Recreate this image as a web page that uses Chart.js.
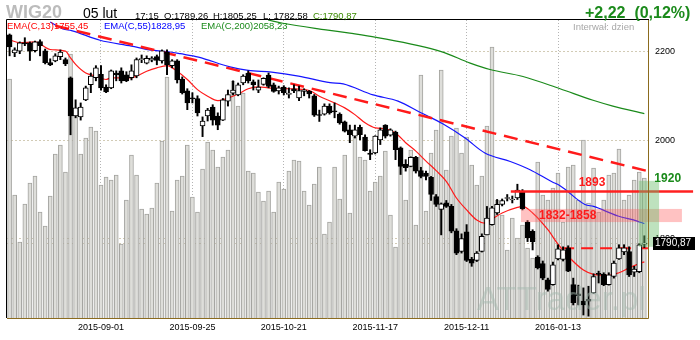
<!DOCTYPE html>
<html><head><meta charset="utf-8">
<script src="https://cdn.jsdelivr.net/npm/chart.js@4.4.1/dist/chart.umd.min.js"></script>
<style>
html,body{margin:0;padding:0;background:#fff;}
#wrap{position:relative;width:700px;height:340px;font-family:"Liberation Sans",Arial,sans-serif;overflow:hidden;}
canvas{position:absolute;left:0;top:0;}
.t{position:absolute;white-space:pre;line-height:1;pointer-events:none;}
</style></head><body>
<div id="wrap">
<canvas id="c" width="700" height="340"></canvas>
<div class="t" style="left:6px;top:3px;font-size:18px;font-weight:bold;color:#bcbcbc;">WIG20</div>
<div class="t" style="left:83px;top:5.5px;font-size:14px;color:#000;">05 lut</div>
<div class="t" style="left:135px;top:10.5px;font-size:9.5px;color:#000;">17:15</div>
<div class="t" id="hO" style="left:164px;top:10.5px;font-size:9.5px;color:#000;"></div>
<div class="t" id="hH" style="left:213px;top:10.5px;font-size:9.5px;color:#000;"></div>
<div class="t" id="hL" style="left:263px;top:10.5px;font-size:9.5px;color:#000;"></div>
<div class="t" id="hC" style="left:313px;top:10.5px;font-size:9.5px;color:#3a8a00;"></div>
<div class="t" id="chg" style="left:585px;top:5px;font-size:16px;font-weight:bold;color:#1b8a1b;"></div>
<div class="t" id="l13" style="left:7px;top:20.5px;font-size:9.5px;color:#ff0000;"></div>
<div class="t" id="l55" style="left:104px;top:20.5px;font-size:9.5px;color:#0000ff;"></div>
<div class="t" id="l200" style="left:201px;top:20.5px;font-size:9.5px;color:#1a8a1a;"></div>
<div class="t" style="left:573px;top:21.5px;font-size:9.5px;color:#a8a8a8;">Interwał: dzien</div>
</div>
<script>
// ---- tick labels (trading-day index -> date) ----
const tickIndex = [18, 36, 54, 72, 90, 108];
const tickDates = ['2015-09-01','2015-09-25','2015-10-21','2015-11-17','2015-12-11','2016-01-13'];
const priceTicks = [1800, 2000, 2200];
const prevClose = 1788.65;

// ---- daily OHLC, WIG20, 2015-08-06 .. 2016-02-05 ----
const opens = [2240,2197,2201,2221,2221,2202,2224,2202,2174,2178,2188,2181,2139,2053,2051,2089,2123,2139,2147,2118,
2116,2150,2155,2146,2139,2143,2181,2173,2180,2188,2178,2199,2167,2178,2136,2109,2093,2092,2031,2053,
2073,2053,2044,2086,2104,2100,2127,2150,2130,2111,2124,2145,2123,2109,2118,2101,2114,2093,2108,2108,
2098,2055,2057,2075,2063,2057,2040,2023,2009,2028,2007,1973,1973,2001,2033,2011,2018,1984,1949,1945,
1964,1936,1931,1922,1883,1857,1870,1863,1815,1775,1813,1760,1758,1775,1807,1827,1850,1867,1879,1876,
1880,1894,1832,1814,1764,1752,1722,1713,1761,1760,1782,1713,1696,1683,1686,1698,1733,1732,1713,1728,
1761,1774,1775,1736,1737,1789.26];
const highs = [2242,2209,2223,2233,2223,2225,2228,2206,2183,2195,2204,2185,2141,2089,2082,2120,2150,2167,2167,2123,
2157,2155,2162,2153,2169,2185,2192,2190,2188,2192,2204,2204,2181,2181,2141,2114,2105,2098,2051,2070,
2078,2060,2092,2111,2132,2127,2146,2155,2134,2134,2139,2150,2127,2120,2121,2116,2123,2120,2114,2110,
2101,2066,2080,2080,2082,2060,2042,2033,2033,2033,2012,1980,2010,2027,2034,2025,2020,1986,1959,1965,
1966,1943,1935,1924,1887,1870,1875,1867,1819,1809,1827,1764,1775,1809,1863,1863,1877,1878,1887,1884,
1908,1897,1835,1817,1767,1757,1725,1755,1788,1784,1786,1725,1712,1707,1710,1733,1738,1735,1735,1757,
1788,1788,1784,1747,1790,1805.25];
const lows = [2190,2188,2195,2214,2179,2199,2190,2171,2167,2176,2181,2167,2012,2049,2044,2087,2105,2132,2111,2105,
2114,2132,2127,2130,2134,2139,2174,2171,2176,2169,2173,2146,2162,2127,2102,2067,2082,2053,2008,2042,
2033,2023,2043,2075,2100,2098,2123,2127,2111,2105,2122,2116,2106,2102,2100,2093,2105,2087,2098,2093,
2052,2041,2055,2057,2049,2035,2018,1995,2005,2001,1977,1959,1971,1991,2005,2009,1959,1928,1935,1944,
1931,1921,1917,1875,1863,1807,1861,1811,1769,1772,1756,1747,1756,1774,1807,1826,1847,1864,1874,1870,
1877,1856,1794,1778,1742,1722,1701,1712,1759,1757,1737,1676,1676,1658,1656,1697,1716,1711,1712,1725,
1760,1769,1728,1728,1735,1782.58];
const closes = [2211,2204,2221,2218,2201,2223,2214,2174,2169,2190,2199,2171,2053,2071,2073,2116,2143,2162,2116,2107,
2155,2146,2132,2132,2155,2181,2183,2184,2185,2179,2202,2169,2178,2134,2105,2082,2091,2060,2042,2066,
2044,2033,2089,2101,2111,2123,2143,2132,2123,2118,2138,2119,2108,2116,2105,2104,2109,2110,2111,2102,
2055,2054,2075,2060,2062,2038,2020,2012,2023,2012,1978,1970,2009,2023,2009,2023,1980,1945,1942,1964,
1935,1924,1924,1887,1867,1868,1863,1814,1772,1800,1758,1753,1772,1804,1840,1860,1867,1875,1880,1878,
1896,1858,1801,1794,1744,1725,1704,1750,1780,1778,1738,1680,1693,1676,1683,1728,1732,1713,1731,1753,
1782,1782,1731,1742,1788,1790.87];
// turnover (relative units)
const volumes = [2390,1230,760,1140,1350,1420,1060,920,1220,1640,1730,1460,2640,2090,1640,1800,1910,1870,1330,1410,
1380,1430,740,1180,1630,1430,1090,1040,1100,1350,1770,2410,1070,1380,1420,1730,1210,1060,1490,1760,
1680,1510,1610,1680,2370,2120,2250,1470,1450,1260,1170,1270,1060,1360,1290,1470,1580,1570,1270,1130,
1340,1510,840,960,1510,1190,1630,1050,1810,1610,1580,1270,1360,1420,1670,1030,710,1600,1180,1680,
930,2430,1070,1650,1880,2480,1480,1820,1900,1650,1810,1530,1330,1420,1920,2710,1180,1030,680,1000,
800,930,700,600,1560,1230,1180,1300,1450,960,1510,1530,1180,1780,1150,1500,1060,1180,1430,1450,
1690,1180,1230,1380,1460,1400];

// ---- moving averages (index, value) ----
const ema13Idx = [0,2,5,8,11,12,13,15,17,19,20,24,25,27,29,31,33,35,37,39,41,43,45,47,49,51,55,59,61,63,66,68,70,72,74,76,78,80,82,84,86,88,90,92,93.5,95,97,100,101,103,106,108,110,113,115,118,120,122,124,125];
const ema13Val = [2228,2221,2223,2205,2201,2185,2170,2150,2143,2135,2139,2139,2143,2154,2162,2167,2154,2135,2112,2097,2087,2093,2102,2114,2118,2116,2114,2110,2097,2087,2071,2056,2038,2027,2025,2016,1995,1977,1956,1936,1914,1880,1856,1836,1830,1838,1850,1861,1863,1850,1817,1789,1766,1740,1732,1730,1735,1744,1752,1755.45];
const ema55Idx = [8,10.5,12.2,17.8,24,27.6,31.6,33.6,37.2,43.4,47,51.6,56.9,63.1,65.7,71.6,76.5,81,85.3,89.7,93.6,98.6,102.5,106.8,108.4,113.3,115,119.8,123.6,125];
const ema55Val = [2271,2254,2250,2227,2213,2204,2199,2195,2187,2164,2156,2152,2143,2128,2125,2100,2086,2060,2036,2005,1973,1955,1938,1913,1905,1867,1863,1844,1834,1828.95];
const ema200Idx = [50.9,53.8,62.3,67,72.2,85,90.7,94.6,101.1,108.4,114.9,118.8,125];
const ema200Val = [2276,2268,2252,2244,2234,2200,2173,2158,2142,2114,2088,2075,2058.23];

// ---- drawn analysis ----
const trendIdx = [9, 125.7];
const trendVal = [2262, 1935];
const supportIdx = [108.8, 125.7];
const supportVal = [1781, 1781];
const resistance = 1893;          const resistanceIdx = [98.7, 134.6];
const zoneLow = 1832, zoneHigh = 1858; const zoneIdx = [100.7, 132.4];
const target = 1920;              const targetBoxIdx = [123.9, 127.9]; const targetBoxVal = [1784, 1915];

const fmt = v => v.toFixed(2).replace('.', ',');
const last = closes.length - 1;
document.getElementById('hO').textContent = 'O:' + fmt(opens[last]);
document.getElementById('hH').textContent = 'H:' + fmt(highs[last]);
document.getElementById('hL').textContent = 'L: ' + fmt(lows[last]);
document.getElementById('hC').textContent = 'C:' + fmt(closes[last]);
const d = closes[last] - prevClose;
document.getElementById('chg').textContent = (d >= 0 ? '+' : '') + fmt(d) + '  (' + fmt(d / prevClose * 100) + '%)';
document.getElementById('l13').textContent = 'EMA(C,13)' + fmt(ema13Val[ema13Val.length-1]);
document.getElementById('l55').textContent = 'EMA(C,55)' + fmt(ema55Val[ema55Val.length-1]);
document.getElementById('l200').textContent = 'EMA(C,200)' + fmt(ema200Val[ema200Val.length-1]);

const pts = (xs, ys) => xs.map((x, i) => ({x, y: ys[i]}));
const FONT = '"Liberation Sans", Arial, sans-serif';

const overlay = {
  id: 'overlay',
  beforeDatasetsDraw(chart) {
    const {ctx, chartArea: a, scales: {y}} = chart;
    ctx.save();
    ctx.setLineDash([2, 2]); ctx.strokeStyle = '#d2cbb5'; ctx.lineWidth = 1;
    const py = Math.round(y.getPixelForValue(closes[last])) + 0.5;
    ctx.beginPath(); ctx.moveTo(a.left, py); ctx.lineTo(a.right, py); ctx.stroke();
    ctx.restore();
  },
  afterDatasetsDraw(chart) {
    const {ctx, chartArea: a, scales: {x, y}} = chart;
    ctx.save();
    // watermark
    ctx.font = '33px ' + FONT; ctx.fillStyle = 'rgba(165,185,176,0.5)';
    ctx.textBaseline = 'alphabetic'; ctx.textAlign = 'left';
    ctx.fillText('ATTrader.pl', a.right - 171, a.bottom - 8);
    // zone
    const zx1 = x.getPixelForValue(zoneIdx[0]), zx2 = x.getPixelForValue(zoneIdx[1]);
    const zy1 = y.getPixelForValue(zoneHigh), zy2 = y.getPixelForValue(zoneLow);
    ctx.fillStyle = 'rgba(255,95,95,0.38)';
    ctx.fillRect(zx1, zy1, zx2 - zx1, zy2 - zy1);
    // resistance line
    const ry = y.getPixelForValue(resistance);
    ctx.strokeStyle = '#ff2020'; ctx.lineWidth = 2.5;
    ctx.beginPath(); ctx.moveTo(x.getPixelForValue(resistanceIdx[0]), ry); ctx.lineTo(x.getPixelForValue(resistanceIdx[1]), ry); ctx.stroke();
    // target box
    const bx1 = x.getPixelForValue(targetBoxIdx[0]), bx2 = x.getPixelForValue(targetBoxIdx[1]);
    const by1 = y.getPixelForValue(targetBoxVal[1]), by2 = y.getPixelForValue(targetBoxVal[0]);
    ctx.fillStyle = 'rgba(110,190,110,0.45)';
    ctx.fillRect(bx1, by1, bx2 - bx1, by2 - by1);
    // labels
    ctx.font = 'bold 12px ' + FONT; ctx.textAlign = 'center'; ctx.textBaseline = 'middle';
    ctx.fillStyle = '#ff1a1a';
    ctx.fillText(String(resistance), x.getPixelForValue(114.7), ry - 9);
    ctx.fillText(zoneLow + '-' + zoneHigh, x.getPixelForValue(109.9), (zy1 + zy2) / 2);
    ctx.restore();
  },
  afterDraw(chart) {
    const {ctx, chartArea: a, scales: {x, y}} = chart;
    ctx.save();
    ctx.lineWidth = 1;
    ctx.strokeStyle = '#8b6b1e';
    ctx.beginPath();
    ctx.moveTo(a.right + 0.5, a.top); ctx.lineTo(a.right + 0.5, a.bottom + 0.5);
    ctx.lineTo(a.left, a.bottom + 0.5); ctx.stroke();
    ctx.strokeStyle = '#000';
    ctx.beginPath();
    ctx.moveTo(a.left - 0.5, a.bottom); ctx.lineTo(a.left - 0.5, a.top - 0.5); ctx.lineTo(a.right + 1, a.top - 0.5); ctx.stroke();
    // target label
    ctx.font = 'bold 12px ' + FONT; ctx.textAlign = 'center'; ctx.textBaseline = 'middle';
    ctx.fillStyle = '#1a8a1a';
    ctx.fillText(String(target), x.getPixelForValue(129.6), y.getPixelForValue(target));
    // last price label
    const py = y.getPixelForValue(closes[last]);
    ctx.fillStyle = '#000';
    ctx.fillRect(a.right + 5, Math.round(py) - 6, 42, 13);
    ctx.fillStyle = '#fff'; ctx.font = '10px ' + FONT; ctx.textAlign = 'left';
    ctx.fillText(fmt(closes[last]), a.right + 7, Math.round(py) + 0.5);
    ctx.restore();
  }
};

const idx = closes.map((_, i) => i);
new Chart(document.getElementById('c'), {
  type: 'bar',
  data: {
    datasets: [
      { type: 'bar', data: volumes.map((v, i) => ({x: i, y: v})), yAxisID: 'yv', xAxisID: 'x',
        barThickness: 4, backgroundColor: '#dededa', borderColor: '#a4a4a0',
        borderWidth: {left: 1, right: 1, top: 1, bottom: 0}, borderSkipped: false, grouped: false, order: 10 },
      { type: 'line', data: pts(ema200Idx, ema200Val), borderColor: '#1a8a1a', borderWidth: 1.2,
        pointRadius: 0, cubicInterpolationMode: 'monotone', yAxisID: 'y', order: 6 },
      { type: 'line', data: pts(ema55Idx, ema55Val), borderColor: '#1515ff', borderWidth: 1.2,
        pointRadius: 0, cubicInterpolationMode: 'monotone', yAxisID: 'y', order: 6 },
      { type: 'line', data: pts(ema13Idx, ema13Val), borderColor: '#ff1a1a', borderWidth: 1.2,
        pointRadius: 0, cubicInterpolationMode: 'monotone', yAxisID: 'y', order: 6 },
      { type: 'line', data: pts(trendIdx, trendVal), borderColor: '#ff1a1a', borderWidth: 2.5,
        borderDash: [14, 8], pointRadius: 0, yAxisID: 'y', order: 5 },
      { type: 'line', data: pts(supportIdx, supportVal), borderColor: '#ff1a1a', borderWidth: 2,
        borderDash: [12, 7], pointRadius: 0, yAxisID: 'y', order: 5 },
      { type: 'bar', data: idx.map(i => ({x: i, y: [lows[i], highs[i]]})), yAxisID: 'y',
        barThickness: 1.3, backgroundColor: '#000', borderWidth: 0, grouped: false, order: 2 },
      { type: 'bar', data: idx.map(i => ({x: i, y: [opens[i], closes[i]]})), yAxisID: 'y',
        barThickness: 5, minBarLength: 1,
        backgroundColor: c => (closes[c.dataIndex] >= opens[c.dataIndex] ? '#ffffff' : '#000000'),
        borderColor: '#000', borderWidth: 1, borderSkipped: false, grouped: false, order: 1 }
    ]
  },
  options: {
    responsive: false, animation: false, devicePixelRatio: 1,
    layout: { padding: { left: 7, top: 20, right: 0, bottom: 0 } },
    plugins: { legend: { display: false }, tooltip: { enabled: false } },
    scales: {
      x: { type: 'linear', min: -0.51, max: 125.72, offset: false,
        afterBuildTicks: s => { s.ticks = tickIndex.map(v => ({value: v})); },
        afterFit: s => { s.height = 22; },
        ticks: { callback: v => tickDates[tickIndex.indexOf(v)] || '', color: '#000',
          font: { family: FONT, size: 9 }, padding: 4, maxRotation: 0, autoSkip: false },
        grid: { color: '#b4b4b4', lineWidth: 1, drawTicks: false, offset: false },
        border: { display: false, dash: [1, 2] } },
      y: { type: 'logarithmic', position: 'right', min: 1652.7, max: 2275.9,
        afterBuildTicks: s => { s.ticks = priceTicks.map(v => ({value: v})); },
        afterFit: s => { s.width = 52; },
        ticks: { callback: v => String(v), color: '#000', font: { family: FONT, size: 9 }, padding: 7 },
        grid: { color: '#d2cbb5', lineWidth: 1, drawTicks: false },
        border: { display: false, dash: [2, 2] } },
      yv: { type: 'linear', display: false, min: 0, max: 2980 }
    }
  },
  plugins: [overlay]
});
</script>
</body></html>
